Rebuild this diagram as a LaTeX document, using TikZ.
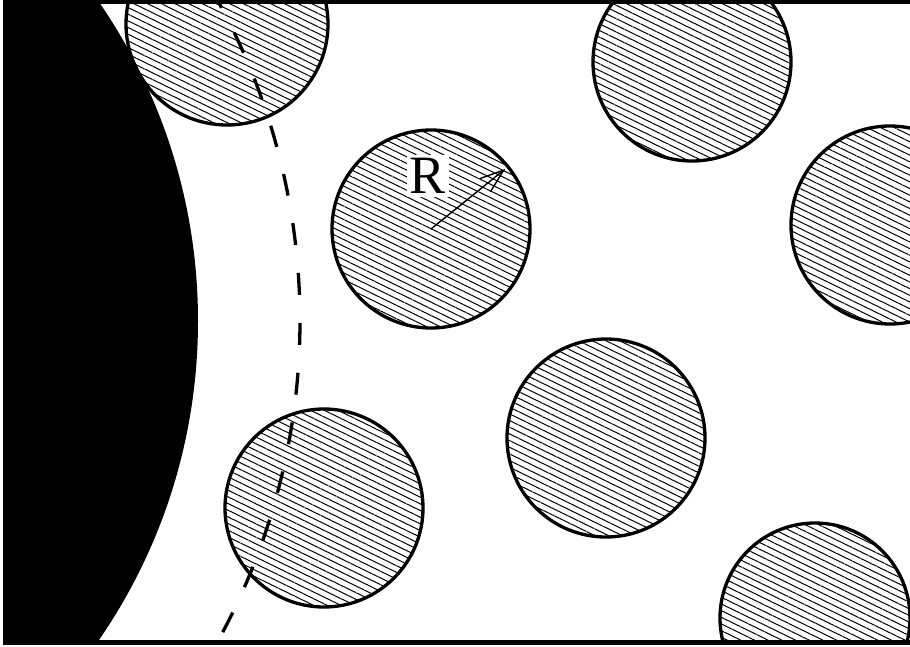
\documentclass[tikz,border=0pt]{standalone}
\usepackage{fontspec}
\setmainfont{Liberation Serif}
\usetikzlibrary{arrows.meta,patterns.meta}

\begin{document}
\begin{tikzpicture}[x=1pt,y=-1pt,line width=3.3pt]
  \tikzstyle{grain}=[circle,draw=black,minimum size=198pt,inner sep=0pt,
    pattern={Lines[angle=-26,distance=6pt,line width=1pt]}]
  \useasboundingbox (0,0) rectangle (910,646);

  \begin{scope}
    \clip (3,0) rectangle (910,642);
    % wall
    \fill (-365,321) circle [radius=563];
    % grains
    \node[grain,minimum size=202pt] (g1) at (227,24) {};
    \node[grain] (g2) at (431,229) {};
    \node[grain] (g3) at (692,62) {};
    \node[grain] (g4) at (890,225) {};
    \node[grain] (g5) at (606,438) {};
    \node[grain] (g6) at (324,508) {};
    \node[grain,minimum size=190pt] (g7) at (815,618) {};
    % layer boundary
    \draw[dash pattern=on 22pt off 28pt] (-365,321) ++(-30:665)
      arc[start angle=-30, end angle=30, radius=665];
  \end{scope}

  \draw[line width=4pt] (3,2) -- (910,2);
  \draw[line width=5pt] (3,642.5) -- (910,642.5);

  \node[fill=white,inner sep=3pt,font=\fontsize{54}{54}\selectfont] (rlab) at (428,176) {R};
  \draw[-{Straight Barb[length=24pt,width=17pt]},line width=1.4pt,shorten >=5pt]
    (g2.center) -- (g2.39);
\end{tikzpicture}
\end{document}
